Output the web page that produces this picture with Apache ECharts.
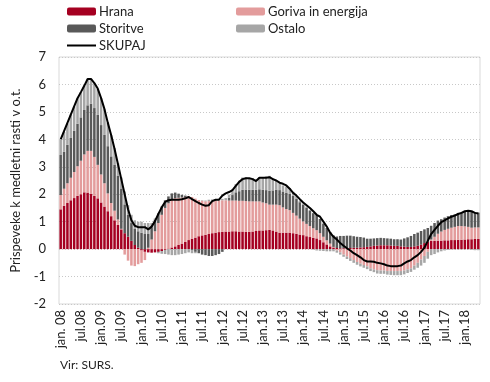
<!DOCTYPE html>
<html><head><meta charset="utf-8">
<script src="https://cdn.jsdelivr.net/npm/echarts@6/dist/echarts.min.js"></script>
<style>html,body{margin:0;padding:0;background:#fff}#c{width:490px;height:382px}</style>
</head><body><div id="c"></div>
<script>
var tickLabels = ["jan. 08","jul.08","jan.09","jul.09","jan.10","jul.10","jan.11","jul.11","jan.12","jul.12","jan.13","jul.13","jan.14","jul.14","jan.15","jul.15","jan.16","jul.16","jan.17","jul.17","jan.18"];
var monthNames = ["jan","feb","mar","apr","maj","jun","jul","avg","sep","okt","nov","dec"];
var hrana = [1.45,1.58,1.68,1.78,1.86,1.94,2.0,2.07,2.06,2.02,1.94,1.85,1.7,
1.55,1.38,1.2,1.05,0.88,0.72,0.58,0.45,0.3,0.15,0.05,-0.05,-0.1,
-0.12,-0.13,-0.12,-0.1,-0.07,-0.03,0.02,0.06,0.1,0.15,0.2,0.26,0.33,
0.38,0.42,0.47,0.5,0.52,0.55,0.58,0.6,0.62,0.63,0.64,0.64,0.65,
0.65,0.64,0.64,0.63,0.63,0.64,0.66,0.68,0.68,0.69,0.7,0.68,0.64,
0.6,0.6,0.6,0.6,0.58,0.56,0.53,0.51,0.47,0.44,0.41,0.39,0.33,
0.25,0.17,0.1,0.06,0.04,0.03,0.03,0.04,0.04,0.05,0.05,0.06,0.07,
0.08,0.1,0.12,0.13,0.14,0.14,0.14,0.13,0.12,0.12,0.1,0.09,0.08,
0.08,0.1,0.12,0.16,0.22,0.27,0.3,0.3,0.31,0.31,0.32,0.32,0.33,
0.33,0.34,0.34,0.35,0.36,0.36,0.37,0.37];
var goriva = [0.52,0.62,0.72,0.82,0.95,1.08,1.22,1.38,1.52,1.56,1.42,1.22,1.02,
0.85,0.65,0.48,0.35,0.2,0.02,-0.2,-0.42,-0.6,-0.62,-0.55,-0.45,-0.3,
0.05,0.35,0.65,0.95,1.25,1.5,1.65,1.75,1.76,1.72,1.68,1.64,1.6,
1.52,1.42,1.32,1.26,1.22,1.2,1.18,1.16,1.15,1.15,1.14,1.13,1.12,
1.12,1.12,1.12,1.12,1.11,1.1,1.08,1.06,1.02,0.98,0.92,0.94,0.98,
1.0,0.92,0.86,0.82,0.74,0.66,0.58,0.5,0.45,0.4,0.35,0.3,0.25,
0.2,0.15,0.1,0.02,-0.05,-0.12,-0.2,-0.27,-0.33,-0.4,-0.47,-0.53,-0.58,
-0.63,-0.7,-0.74,-0.77,-0.78,-0.78,-0.8,-0.8,-0.8,-0.8,-0.8,-0.78,-0.74,
-0.7,-0.6,-0.5,-0.38,-0.25,-0.1,0.05,0.15,0.25,0.33,0.38,0.42,0.45,
0.48,0.5,0.5,0.48,0.45,0.42,0.42,0.42];
var storitve = [1.46,1.35,1.4,1.45,1.5,1.55,1.58,1.62,1.66,1.72,1.78,1.82,1.8,
1.76,1.72,1.7,1.68,1.6,1.45,1.05,0.8,0.65,0.6,0.6,0.6,0.55,
0.5,0.45,0.42,0.35,0.3,0.28,0.25,0.22,0.2,0.15,0.1,0.05,0.0,
-0.05,-0.1,-0.15,-0.2,-0.22,-0.25,-0.25,-0.22,-0.18,-0.1,0.0,0.1,0.2,
0.3,0.35,0.4,0.42,0.42,0.42,0.42,0.44,0.46,0.48,0.5,0.52,0.55,
0.55,0.58,0.6,0.6,0.62,0.62,0.6,0.6,0.58,0.57,0.55,0.55,0.52,
0.48,0.45,0.42,0.42,0.42,0.45,0.45,0.45,0.45,0.42,0.4,0.38,0.35,
0.3,0.28,0.27,0.27,0.27,0.26,0.25,0.25,0.24,0.24,0.25,0.3,0.35,
0.4,0.45,0.48,0.5,0.5,0.5,0.5,0.5,0.48,0.45,0.45,0.46,0.46,
0.46,0.48,0.5,0.53,0.56,0.58,0.56,0.54];
var ostalo = [0.55,0.72,0.78,0.85,0.88,0.92,0.92,0.88,0.94,0.88,0.9,0.95,0.98,
0.94,0.85,0.77,0.6,0.45,0.42,0.47,0.35,0.3,0.3,0.35,0.4,0.4,
0.4,0.15,0.05,-0.05,-0.1,-0.15,-0.2,-0.22,-0.22,-0.2,-0.18,-0.15,-0.12,
-0.1,-0.05,0.0,0.02,0.03,0.05,0.05,0.05,0.05,0.05,0.08,0.12,0.2,
0.3,0.38,0.45,0.45,0.43,0.42,0.38,0.42,0.45,0.5,0.55,0.45,0.35,
0.25,0.22,0.22,0.2,0.15,0.1,0.05,0.05,0.05,0.0,-0.02,-0.05,-0.06,
-0.07,-0.08,-0.08,-0.08,-0.08,-0.08,-0.08,-0.09,-0.1,-0.1,-0.1,-0.1,-0.1,
-0.1,-0.1,-0.1,-0.12,-0.12,-0.12,-0.13,-0.14,-0.15,-0.15,-0.15,-0.14,-0.13,
-0.13,-0.15,-0.18,-0.22,-0.25,-0.25,-0.22,-0.18,-0.12,-0.08,-0.05,-0.03,-0.02,
-0.02,-0.02,-0.02,-0.02,-0.02,-0.03,-0.04,-0.04];
var skupaj = [4.0,4.3,4.6,4.9,5.2,5.5,5.72,5.95,6.2,6.2,6.05,5.85,5.5,
5.1,4.6,4.15,3.65,3.1,2.55,2.0,1.45,1.05,0.85,0.8,0.8,0.8,
0.72,0.82,1.02,1.28,1.52,1.72,1.78,1.8,1.8,1.8,1.82,1.85,1.9,
1.82,1.75,1.68,1.62,1.58,1.6,1.75,1.8,1.8,1.95,2.03,2.08,2.15,
2.3,2.45,2.55,2.58,2.58,2.55,2.48,2.6,2.6,2.6,2.62,2.55,2.5,
2.42,2.38,2.32,2.2,2.05,1.95,1.82,1.7,1.6,1.5,1.38,1.25,1.18,
1.0,0.82,0.6,0.45,0.35,0.22,0.12,0.03,-0.05,-0.15,-0.22,-0.3,-0.4,
-0.45,-0.45,-0.46,-0.5,-0.52,-0.55,-0.6,-0.62,-0.62,-0.62,-0.6,-0.52,-0.45,
-0.4,-0.3,-0.22,-0.1,0.05,0.3,0.55,0.7,0.85,0.98,1.05,1.12,1.18,
1.22,1.28,1.32,1.38,1.4,1.38,1.32,1.3];

var categories = [];
for (var i = 0; i < hrana.length; i++) {
  categories.push(monthNames[i % 12] + "." + String(8 + Math.floor(i / 12)).padStart(2, "0"));
}

var FONT = "Lato";
var chart = echarts.init(document.getElementById("c"), null, {renderer: "canvas"});
function barSeries(name, data, color) {
  return {name: name, type: "bar", stack: "total", data: data, barCategoryGap: "25%",
    itemStyle: {color: color}, animation: false};
}
var legendText = {fontSize: 13, color: "#222", fontFamily: FONT, padding: [0, 0, 0, -2]};
chart.setOption({
  animation: false,
  textStyle: {fontFamily: FONT},
  legend: [
    {left: 62, top: 0, orient: "vertical", itemWidth: 29, itemHeight: 8, itemGap: 4,
     textStyle: legendText,
     data: ["Hrana", "Storitve", {name: "SKUPAJ", icon: "path://M0,0L29,0L29,2L0,2Z"}]},
    {left: 231, top: 0, orient: "vertical", itemWidth: 29, itemHeight: 8, itemGap: 4,
     textStyle: legendText,
     data: ["Goriva in energija", "Ostalo"]}
  ],
  grid: {left: 59, right: 10, top: 57, bottom: 78, show: true, borderColor: "#d9d9d9", borderWidth: 1},
  xAxis: {
    type: "category", data: categories, boundaryGap: true,
    axisLine: {show: false}, axisTick: {show: false},
    axisLabel: {interval: 5, rotate: 90, fontSize: 13, color: "#222", fontFamily: FONT, margin: 6,
      formatter: function (v, idx) { return idx % 6 === 0 ? tickLabels[idx / 6] : ""; }}
  },
  yAxis: {
    type: "value", min: -2, max: 7, interval: 1,
    name: "Prispeveke k medletni rasti v o.t.", nameLocation: "middle", nameGap: 36,
    nameTextStyle: {fontSize: 13, color: "#222", fontFamily: FONT},
    axisLine: {show: false}, axisTick: {show: false},
    axisLabel: {fontSize: 13, color: "#222", fontFamily: FONT, margin: 13},
    splitLine: {lineStyle: {color: "#c8c8c8", type: [1, 2], width: 1}}
  },
  graphic: [{type: "text", left: 60, top: 359, style: {text: "Vir: SURS.", font: "12px " + FONT, fill: "#222"}}],
  series: [
    barSeries("Hrana", hrana, "#a50021"),
    barSeries("Goriva in energija", goriva, "#e39c9c"),
    barSeries("Storitve", storitve, "#595959"),
    barSeries("Ostalo", ostalo, "#a6a6a6"),
    {name: "SKUPAJ", type: "line", data: skupaj, symbol: "none", showSymbol: false, smooth: false,
     lineStyle: {color: "#000", width: 2}, itemStyle: {color: "#000"}, z: 10, animation: false}
  ]
});
</script></body></html>
